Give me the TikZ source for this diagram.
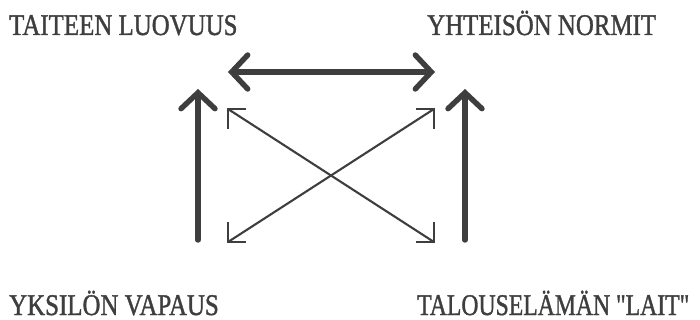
\documentclass[tikz,border=0pt]{standalone}
\usepackage{fontspec}
\newfontfamily\arvofont[FakeBold=1.4]{Liberation Serif}
\usepackage{graphicx}
\usepackage{xcolor}
\definecolor{arvoInk}{HTML}{3E3E3E}
\usetikzlibrary{arrows.meta}
\newcommand{\arvo}[2][0.83]{\scalebox{#1}[1]{#2}}

\begin{document}
\begin{tikzpicture}[x=1pt, y=-1pt,
    arvo/.style={anchor=base west, inner sep=0pt, text=arvoInk,
      font=\arvofont\fontsize{30}{30}\selectfont},
    karki/.tip={Straight Barb[length=16pt, width=34pt, line cap=round]},
    paksu/.style={arvoInk, line width=5.4pt, line cap=round, arrows={-karki}},
    ohut/.style={arvoInk, line width=2.1pt}]
    \useasboundingbox (0,0) rectangle (700,320);

    % arvot
    \node[arvo] (luovuus) at (9,35)  {\arvo{TAITEEN LUOVUUS}};
    \node[arvo] (normit)  at (427,35) {\arvo{YHTEISÖN NORMIT}};
    \node[arvo] (vapaus)  at (9,315) {\arvo{YKSILÖN VAPAUS}};
    \node[arvo] (lait)    at (417,315) {\arvo[0.79]{TALOUSELÄMÄN "LAIT"}};

    % kulmat
    \coordinate (H0) at (228,72);
    \coordinate (H1) at (435,72);
    \coordinate (V0) at (198,240);
    \coordinate (V1) at (198,89);
    \coordinate (W0) at (465,240);
    \coordinate (W1) at (465,89);
    \coordinate (TL) at (228,109);
    \coordinate (TR) at (434,109);
    \coordinate (BL) at (228,242);
    \coordinate (BR) at (434,242);

    \draw[paksu, arrows={karki-karki}] (H0) -- (H1);
    \draw[paksu] (V0) -- (V1);
    \draw[paksu] (W0) -- (W1);

    \draw[ohut] (TL) -- (BR);
    \draw[ohut] (BL) -- (TR);
    \foreach \c/\dx/\dy in {TL/18/20, TR/-18/20, BL/18/-20, BR/-18/-20} {
      \draw[ohut] ([xshift=\dx pt]\c) -- (\c) -- ([yshift=-\dy pt]\c);
    }
  \end{tikzpicture}
\end{document}
